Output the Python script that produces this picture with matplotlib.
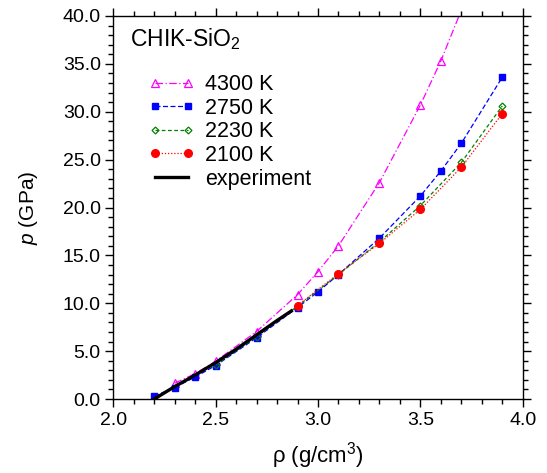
import numpy as np
import matplotlib
matplotlib.use("Agg")
import matplotlib.pyplot as plt
from matplotlib.ticker import MultipleLocator, FormatStrFormatter

plt.rcParams['font.family'] = ['Liberation Sans', 'DejaVu Sans']
plt.rcParams['mathtext.fontset'] = 'custom'
plt.rcParams['mathtext.rm'] = 'Liberation Sans'
plt.rcParams['mathtext.it'] = 'Liberation Sans:italic'

# density (g/cm^3) and pressure (GPa)
rho_4300 = [2.3, 2.4, 2.5, 2.7, 2.9, 3.0, 3.1, 3.3, 3.5, 3.6, 3.7]
p_4300 = [1.65, 2.65, 3.95, 7.05, 10.9, 13.3, 16.0, 22.6, 30.7, 35.3, 40.6]

rho_2750 = [2.2, 2.3, 2.4, 2.5, 2.7, 2.9, 3.0, 3.1, 3.3, 3.5, 3.6, 3.7, 3.9]
p_2750 = [0.3, 1.2, 2.3, 3.5, 6.4, 9.55, 11.2, 13.0, 16.8, 21.2, 23.8, 26.7, 33.6]

rho_2230 = [2.5, 2.7, 2.9, 3.1, 3.3, 3.5, 3.7, 3.9]
p_2230 = [3.55, 6.5, 9.7, 13.0, 16.4, 20.2, 24.7, 30.6]

rho_2100 = [2.9, 3.1, 3.3, 3.5, 3.7, 3.9]
p_2100 = [9.76, 13.1, 16.25, 19.8, 24.2, 29.8]

rho_exp = [2.2, 2.3, 2.4, 2.5, 2.6, 2.7, 2.8, 2.87]
p_exp = [0.0, 1.3, 2.5, 3.8, 5.2, 6.7, 8.2, 9.2]

fig = plt.figure(figsize=(5.47, 4.73), dpi=100)
ax = fig.add_axes([0.2071, 0.1564, 0.7485, 0.8098])

ax.plot(rho_4300, p_4300, color='#ff00ff', lw=0.9, dashes=[6, 2, 1, 2],
        marker='^', ms=6, mfc='none', mec='#ff00ff', mew=0.9, label='4300 K')
ax.plot(rho_2750, p_2750, color='#0000ff', lw=0.9, dashes=[4, 2],
        marker='s', ms=4.5, mfc='#0000ff', mec='#0000ff', label='2750 K')
ax.plot(rho_2230, p_2230, color='#008000', lw=0.9, dashes=[3, 2],
        marker='D', ms=3.5, mfc='none', mec='#008000', mew=0.9, label='2230 K')
ax.plot(rho_2100, p_2100, color='#ff0000', lw=0.9, dashes=[1, 1.5],
        marker='o', ms=5.5, mfc='#ff0000', mec='#ff0000', label='2100 K')
ax.plot(rho_exp, p_exp, color='black', lw=2.4, label='experiment')

ax.set_xlim(2.0, 4.0)
ax.set_ylim(0.0, 40.0)
ax.xaxis.set_major_locator(MultipleLocator(0.5))
ax.xaxis.set_minor_locator(MultipleLocator(0.1))
ax.yaxis.set_major_locator(MultipleLocator(5.0))
ax.yaxis.set_minor_locator(MultipleLocator(1.0))
ax.xaxis.set_major_formatter(FormatStrFormatter('%.1f'))
ax.yaxis.set_major_formatter(FormatStrFormatter('%.1f'))
ax.tick_params(which='both', direction='out', top=True, right=True,
               labelsize=14, width=1.0)
ax.tick_params(which='major', length=6, pad=3)
ax.tick_params(which='minor', length=3.5)
for s in ax.spines.values():
    s.set_linewidth(1.0)

ax.set_xlabel(r'ρ (g/cm$^3$)', fontsize=16, labelpad=8)
ax.set_ylabel(r'$p$ (GPa)', fontsize=15, labelpad=16)

ax.text(0.041, 0.922, r'CHIK-SiO$_2$', transform=ax.transAxes,
        fontsize=16.5, va='baseline', ha='left')

ax.legend(loc='upper left', bbox_to_anchor=(0.087, 0.848), frameon=False,
          numpoints=2, handlelength=2.1, handletextpad=0.5, labelspacing=0.12,
          borderpad=0, borderaxespad=0, fontsize=15.5)

fig.savefig('out.png', dpi=100)
